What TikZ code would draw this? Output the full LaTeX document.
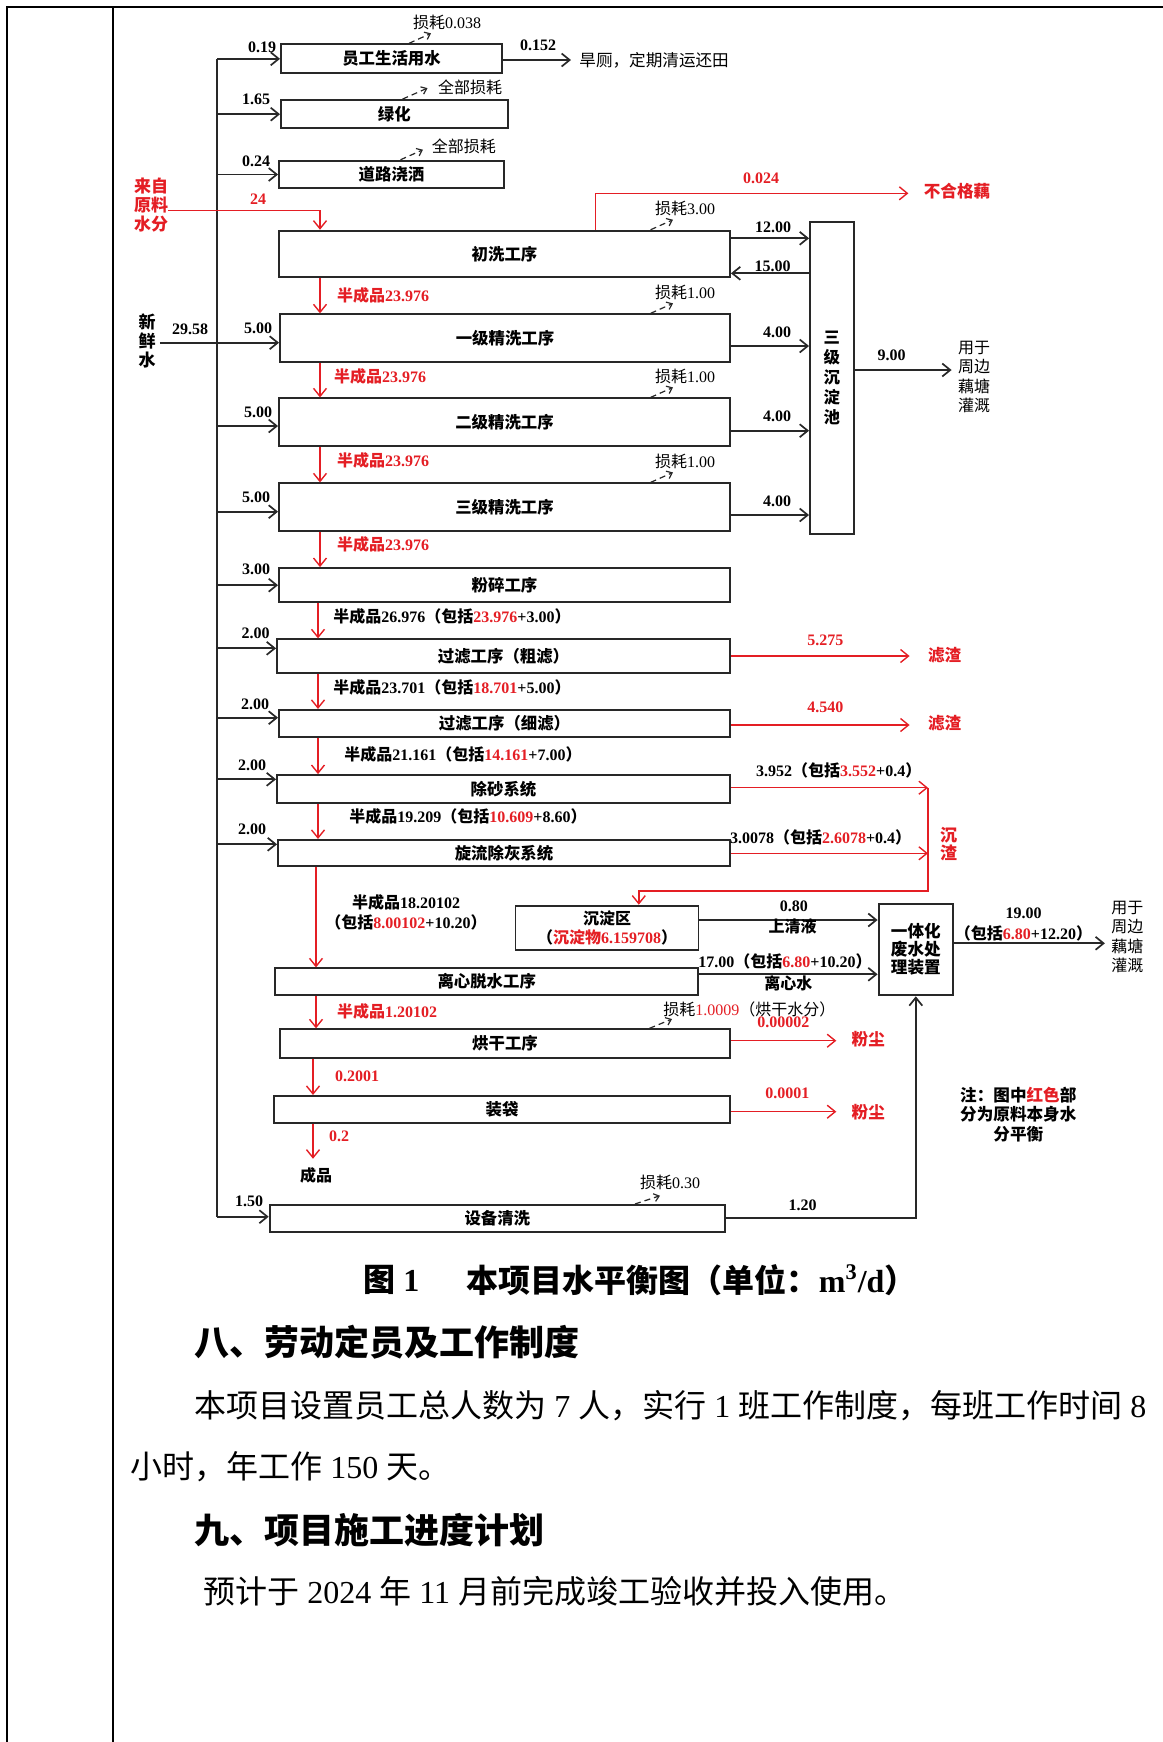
\documentclass[tikz,border=0pt]{standalone}
\usepackage{fontspec}
\setmainfont{Liberation Serif}
\newfontfamily\zhfont{Noto Sans CJK SC}
\usetikzlibrary{arrows.meta,calc}
\definecolor{myred}{RGB}{228,30,36}
\definecolor{ink}{RGB}{40,40,40}
% automatic switch to the CJK font for CJK characters
\XeTeXinterchartokenstate=1
\newXeTeXintercharclass\zhclass
\newcount\zhc
\zhc="4E00 \loop \XeTeXcharclass\zhc=\zhclass \advance\zhc by 1 \ifnum\zhc<"A000 \repeat
\zhc="3000 \loop \XeTeXcharclass\zhc=\zhclass \advance\zhc by 1 \ifnum\zhc<"3040 \repeat
\zhc="FF00 \loop \XeTeXcharclass\zhc=\zhclass \advance\zhc by 1 \ifnum\zhc<"FFF0 \repeat
\XeTeXinterchartoks 0 \zhclass = {\zhfont}
\XeTeXinterchartoks 4095 \zhclass = {\zhfont}
\XeTeXinterchartoks \zhclass 0 = {\rmfamily}
\XeTeXinterchartoks \zhclass 4095 = {\rmfamily}
\tikzset{
  wh/.style 2 args={minimum width=#1*0.5pt, minimum height=#2*0.5pt},
  box/.style={draw=ink, line width=0.95pt, inner sep=0pt, font=\bfseries\fontsize{8.2}{10}\selectfont},
  lbl/.style={inner sep=0pt, font=\bfseries\fontsize{8}{10}\selectfont, align=center},
  rlbl/.style={lbl, text=myred},
  slbl/.style={inner sep=0pt, font=\fontsize{8}{10}\selectfont},
  dst/.style={inner sep=0pt, align=center, font=\fontsize{8}{9.7}\selectfont},
  wline/.style={draw=ink, line width=0.85pt},
  arr/.style={draw=ink, line width=0.85pt, -{Straight Barb[length=4pt,width=6.5pt]}},
  rarr/.style={draw=myred, line width=0.7pt, -{Straight Barb[length=4pt,width=6.5pt]}},
  loss/.style={draw=ink, line width=0.6pt, densely dashed, -{Straight Barb[length=2.5pt,width=4pt]}},
  body/.style={anchor=west, inner sep=0pt, font=\fontsize{16}{16}\selectfont},
  head/.style={anchor=west, inner sep=0pt, font=\bfseries\fontsize{17.5}{17.5}\selectfont},
}
\begin{document}
\begin{tikzpicture}[x=0.5pt, y=-0.5pt]
\useasboundingbox (0,0) rectangle (1163,1742);
% table frame
\draw[line width=1.15pt] (7,1742) -- (7,7) -- (1163,7);
\draw[line width=0.6pt] (113,7) -- (113,1742);

% ---------- boxes ----------
\node[box, wh={221}{29}] (bA) at (391.5,58.8) {员工生活用水};
\node[box, wh={226.6}{28.3}] (bB) at (394.3,114.2) {绿化};
\node[box, wh={225}{27.6}] (bC) at (391.5,174.5) {道路浇洒};
\node[box, wh={451}{46.6}] (b1) at (504.5,254) {初洗工序};
\node[box, wh={450}{48}] (b2) at (505,338.3) {一级精洗工序};
\node[box, wh={451}{47.7}] (b3) at (504.5,422.2) {二级精洗工序};
\node[box, wh={451}{47.7}] (b4) at (504.5,507.2) {三级精洗工序};
\node[box, wh={451}{34.3}] (b5) at (504.5,585.2) {粉碎工序};
\node[box, wh={453}{33.4}] (b6) at (503.5,656) {过滤工序（粗滤）};
\node[box, wh={451}{26.7}] (b7) at (504.5,723.3) {过滤工序（细滤）};
\node[box, wh={453}{28.3}] (b8) at (503.5,789.2) {除砂系统};
\node[box, wh={452}{25.7}] (b9) at (504,852.8) {旋流除灰系统};
\node[box, wh={423.4}{26.7}] (b10) at (486.7,981.7) {离心脱水工序};
\node[box, wh={450}{28.4}] (b11) at (505,1043.5) {烘干工序};
\node[box, wh={456}{26.7}] (b12) at (502,1109.3) {装袋};
\node[box, wh={455.3}{26.7}] (b13) at (497.3,1218.3) {设备清洗};
\node[box, wh={183}{44.3}, align=center, font=\bfseries\fontsize{8}{9.2}\selectfont] (sed) at (607,927.8) {沉淀区\\（\textcolor{myred}{沉淀物6.159708}）};
\node[box, wh={43.6}{312.3}, align=center] (pool) at (831.8,377.8) {三\\级\\沉\\淀\\池};
\node[box, wh={74.5}{91.3}, align=center, font=\bfseries\fontsize{8.3}{9}\selectfont] (wt) at (915.8,949.7) {一体化\\废水处\\理装置};

% ---------- fresh water trunk ----------
\node[lbl, inner sep=2pt, font=\bfseries\fontsize{8.5}{9.5}\selectfont] (fresh) at (147,341) {新\\鲜\\水};
\coordinate (tT) at (217,58.8);
\coordinate (tB) at (217,1216.7);
\draw[wline] (fresh.east |- 0,342.7) -- (217,342.7);
\draw[wline] (tT) -- (tB);
\draw[arr] (tT |- bA.west) -- (bA.west);
\draw[arr] (tT |- bB.west) -- (bB.west);
\draw[arr] (tT |- bC.west) -- (bC.west);
\draw[arr] (217,342.7) -- (b2.west |- 0,342.7);
\draw[arr] (217,426) -- (b3.west |- 0,426);
\draw[arr] (217,511.7) -- (b4.west |- 0,511.7);
\draw[arr] (tT |- b5.west) -- (b5.west);
\draw[arr] (217,648.3) -- (b6.west |- 0,648.3);
\draw[arr] (217,717.7) -- (b7.west |- 0,717.7);
\draw[arr] (217,779.3) -- (b8.west |- 0,779.3);
\draw[arr] (217,844.3) -- (b9.west |- 0,844.3);
\draw[arr] (tB) -- (b13.west |- tB);

\node[lbl] (q01) at (262,47.7) {0.19};
\node[lbl] (q02) at (256,99.3) {1.65};
\node[lbl] (q03) at (256,161.7) {0.24};
\node[lbl] (q04) at (190,329.3) {29.58};
\node[lbl] (q05) at (258,328.3) {5.00};
\node[lbl] (q06) at (258,412.7) {5.00};
\node[lbl] (q07) at (256,497.7) {5.00};
\node[lbl] (q08) at (256,569.3) {3.00};
\node[lbl] (q09) at (255.5,633.3) {2.00};
\node[lbl] (q10) at (255,704) {2.00};
\node[lbl] (q11) at (252,765) {2.00};
\node[lbl] (q12) at (252,829.3) {2.00};
\node[lbl] (q13) at (249,1201.7) {1.50};

% ---------- raw material water ----------
\node[rlbl, font=\bfseries\fontsize{8.5}{9.5}\selectfont] (raw) at (151,205.5) {来自\\原料\\水分};
\draw[rarr] (raw.east |- 0,210.7) -- (320,210.7) -- (b1.north -| 320,0);
\node[rlbl] (q14) at (258,199) {24};

% ---------- product chain (red) ----------
\coordinate (xa) at (320,0);
\coordinate (xb) at (318,0);
\coordinate (xc) at (316,0);
\coordinate (xd) at (313,0);
\draw[rarr] (b1.south -| xa) -- (b2.north -| xa);
\draw[rarr] (b2.south -| xa) -- (b3.north -| xa);
\draw[rarr] (b3.south -| xa) -- (b4.north -| xa);
\draw[rarr] (b4.south -| xa) -- (b5.north -| xa);
\draw[rarr] (b5.south -| xb) -- (b6.north -| xb);
\draw[rarr] (b6.south -| xb) -- (b7.north -| xb);
\draw[rarr] (b7.south -| xb) -- (b8.north -| xb);
\draw[rarr] (b8.south -| xb) -- (b9.north -| xb);
\draw[rarr] (b9.south -| xc) -- (b10.north -| xc);
\draw[rarr] (b10.south -| xc) -- (b11.north -| xc);
\draw[rarr] (b11.south -| xd) -- (b12.north -| xd);
\node[lbl, inner sep=4pt] (prod) at (316,1175) {成品};
\draw[rarr] (b12.south -| xd) -- (xd |- prod.north);

\node[rlbl] (r01) at (383,295) {半成品23.976};
\node[rlbl] (r02) at (380,376.7) {半成品23.976};
\node[rlbl] (r03) at (383,460) {半成品23.976};
\node[rlbl] (r04) at (383,544) {半成品23.976};
\node[lbl] (r05) at (452,616) {半成品26.976（包括\textcolor{myred}{23.976}+3.00）};
\node[lbl] (r06) at (452,687.7) {半成品23.701（包括\textcolor{myred}{18.701}+5.00）};
\node[lbl] (r07) at (463,754.3) {半成品21.161（包括\textcolor{myred}{14.161}+7.00）};
\node[lbl] (r08) at (468,816.7) {半成品19.209（包括\textcolor{myred}{10.609}+8.60）};
\node[lbl] (r09) at (406,912.5) {半成品18.20102\\（包括\textcolor{myred}{8.00102}+10.20）};
\node[rlbl] (r10) at (387,1011.7) {半成品1.20102};
\node[rlbl] (r11) at (357,1076.7) {0.2001};
\node[rlbl] (r12) at (339,1136.7) {0.2};

% ---------- losses ----------
\node[slbl] (s01) at (447,22.7) {损耗0.038};
\node[slbl] (s02) at (470,87.3) {全部损耗};
\node[slbl] (s03) at (463.8,146.7) {全部损耗};
\node[slbl] (s04) at (685,208.3) {损耗3.00};
\node[slbl] (s05) at (685,292.3) {损耗1.00};
\node[slbl] (s06) at (685,376.7) {损耗1.00};
\node[slbl] (s07) at (685,461) {损耗1.00};
\node[slbl, anchor=west] (s08) at (663,1009) {损耗\textcolor{myred}{1.0009}（烘干水分）};
\node[slbl] (s09) at (670,1182.3) {损耗0.30};
\draw[loss] (bA.north -| 409,0) -- ++(22,-10);
\draw[loss] (bB.north -| 402.5,0) -- ++(25,-11);
\draw[loss] (bC.north -| 400.5,0) -- ++(22.5,-10);
\draw[loss] (b1.north -| 650.6,0) -- ++(22.4,-10);
\draw[loss] (b2.north -| 650.6,0) -- ++(22.4,-10);
\draw[loss] (b3.north -| 650.6,0) -- ++(22.4,-10);
\draw[loss] (b4.north -| 650.6,0) -- ++(22.4,-10);
\draw[loss] (b11.north -| 649.4,0) -- ++(22.6,-9.3);
\draw[loss] (b13.north -| 635,0) -- ++(25,-8.3);

% ---------- staff toilet ----------
\node[dst, anchor=west, font=\fontsize{8.3}{10}\selectfont] (toilet) at (579,60.5) {旱厕，定期清运还田};
\draw[arr, shorten >=4pt] (bA.east |- 0,60) -- (toilet.west |- 0,60);
\node[lbl] (q15) at (538,45) {0.152};

% ---------- rejected lotus root ----------
\node[rlbl, font=\bfseries\fontsize{8.3}{10}\selectfont] (rej) at (957,191.5) {不合格藕};
\draw[rarr, shorten >=7.5pt] (b1.north -| 595.6,0) -- (595.6,193.3) -- (rej.west |- 0,193.3);
\node[rlbl] (q16) at (761,178.5) {0.024};

% ---------- sedimentation pool ----------
\draw[arr] (b1.east |- 0,238.3) -- (pool.west |- 0,238.3);
\draw[arr] (pool.west |- 0,273.3) -- (b1.east |- 0,273.3);
\draw[arr] (b2.east |- 0,346) -- (pool.west |- 0,346);
\draw[arr] (b3.east |- 0,430.7) -- (pool.west |- 0,430.7);
\draw[arr] (b4.east |- 0,515) -- (pool.west |- 0,515);
\node[lbl] (q17) at (773,227.3) {12.00};
\node[lbl] (q18) at (772.6,266.7) {15.00};
\node[lbl] (q19) at (777,332.7) {4.00};
\node[lbl] (q20) at (777,416.7) {4.00};
\node[lbl] (q21) at (777,501.7) {4.00};
\node[dst, inner sep=3pt] (irr1) at (974,377) {用于\\周边\\藕塘\\灌溉};
\draw[arr] (pool.east |- 0,370) -- (irr1.west |- 0,370);
\node[lbl] (q22) at (891.5,355) {9.00};

% ---------- filter residues ----------
\node[rlbl, font=\bfseries\fontsize{8.3}{10}\selectfont] (fz1) at (944.6,655) {滤渣};
\node[rlbl, font=\bfseries\fontsize{8.3}{10}\selectfont] (fz2) at (944.6,723.3) {滤渣};
\draw[rarr, shorten >=9pt] (b6.east |- 0,656) -- (fz1.west |- 0,656);
\draw[rarr, shorten >=9pt] (b7.east |- 0,725) -- (fz2.west |- 0,725);
\node[rlbl] (q23) at (825.4,640) {5.275};
\node[rlbl] (q24) at (825.4,707.7) {4.540};

% ---------- settled slag ----------
\coordinate (sj) at (928,787.7);
\draw[rarr] (b8.east |- sj) -- (sj);
\draw[rarr] (b9.east |- 0,853.3) -- (sj |- 0,853.3);
\draw[rarr] (sj) -- (sj |- 0,891) -- (638.8,891) -- (sed.north -| 638.8,0);
\node[lbl] (q25) at (838.8,770) {3.952（包括\textcolor{myred}{3.552}+0.4）};
\node[lbl] (q26) at (820.6,837.3) {3.0078（包括\textcolor{myred}{2.6078}+0.4）};
\node[rlbl, font=\bfseries\fontsize{8.5}{9}\selectfont] (cz) at (948.5,844) {沉\\渣};

% ---------- wastewater treatment ----------
\draw[arr] (sed.east |- 0,920) -- (wt.west |- 0,920);
\node[lbl] (q27) at (793.8,906.7) {0.80};
\node[lbl] (q28) at (792.7,926.7) {上清液};
\draw[arr] (b10.east |- 0,974.3) -- (wt.west |- 0,974.3);
\node[lbl] (q29) at (785,961.7) {17.00（包括\textcolor{myred}{6.80}+10.20）};
\node[lbl] (q30) at (788.3,983.3) {离心水};
\node[dst, inner sep=3pt] (irr2) at (1127.3,937) {用于\\周边\\藕塘\\灌溉};
\draw[arr] (wt.east |- 0,943.3) -- (irr2.west |- 0,943.3);
\node[lbl] (q31) at (1023.5,913.3) {19.00};
\node[lbl] (q32) at (1023.5,933.3) {（包括\textcolor{myred}{6.80}+12.20）};
\draw[arr] (b13.east |- 0,1218.3) -- (wt.south |- 0,1218.3) -- (wt.south);
\node[lbl] (q33) at (802.7,1205.7) {1.20};

% ---------- dust ----------
\node[rlbl, font=\bfseries\fontsize{8.3}{10}\selectfont] (fc1) at (868.3,1039) {粉尘};
\node[rlbl, font=\bfseries\fontsize{8.3}{10}\selectfont] (fc2) at (868.3,1111.7) {粉尘};
\draw[rarr, shorten >=7.5pt] (b11.east |- 0,1040.7) -- (fc1.west |- 0,1040.7);
\draw[rarr, shorten >=7.5pt] (b12.east |- 0,1111.7) -- (fc2.west |- 0,1111.7);
\node[rlbl] (q34) at (783.3,1022.7) {0.00002};
\node[rlbl] (q35) at (787.3,1093.3) {0.0001};

% ---------- note ----------
\node[lbl, font=\bfseries\fontsize{8.3}{9.8}\selectfont] (note) at (1018.3,1114.5) {注：图中\textcolor{myred}{红色}部\\分为原料本身水\\分平衡};

% ---------- caption and text ----------
\node[anchor=west, inner sep=0pt, font=\bfseries\fontsize{16}{16}\selectfont] (cap1) at (363,1280) {图 1};
\node[anchor=west, inner sep=0pt, font=\bfseries\fontsize{16}{16}\selectfont] (cap2) at (466.5,1280) {本项目水平衡图（单位：m\textsuperscript{3}/d）};
\node[head] (h8) at (194,1342) {八、劳动定员及工作制度};
\node[body] (p1) at (194,1406) {本项目设置员工总人数为 7 人，实行 1 班工作制度，每班工作时间 8};
\node[body] (p2) at (130,1467) {小时，年工作 150 天。};
\node[head] (h9) at (194,1530) {九、项目施工进度计划};
\node[body] (p3) at (203,1591) {预计于 2024 年 11 月前完成竣工验收并投入使用。};
\end{tikzpicture}
\end{document}
